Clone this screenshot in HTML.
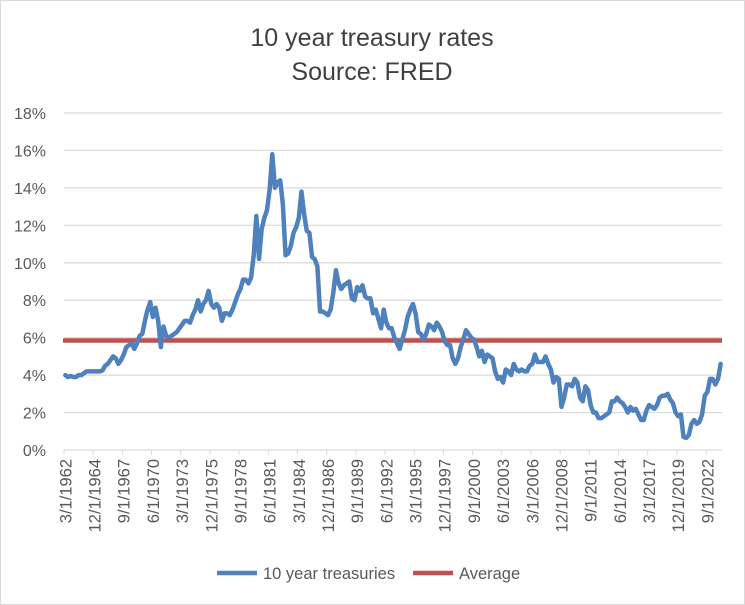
<!DOCTYPE html>
<html><head><meta charset="utf-8"><style>
html,body{margin:0;padding:0;background:#fff}
svg{display:block;font-family:"Liberation Sans",Arial,sans-serif}
</style></head><body>
<svg id="chart" width="745" height="605" viewBox="0 0 745 605">
<rect x="0.5" y="0.5" width="744" height="604" fill="#fff" stroke="#d9d9d9"/>
<text x="372" y="46" text-anchor="middle" font-size="25" fill="#404040">10 year treasury rates</text>
<text x="372" y="80" text-anchor="middle" font-size="25" fill="#404040">Source: FRED</text>
<g id="grid"></g><g id="yt"></g><g id="xt"></g><g id="series"></g>
<g>
<line x1="217" y1="573" x2="257" y2="573" stroke="#4f81bd" stroke-width="4.5"/>
<text x="263" y="579" font-size="16.5" fill="#595959">10 year treasuries</text>
<line x1="413" y1="573" x2="453" y2="573" stroke="#c0504d" stroke-width="4.5"/>
<text x="459" y="579" font-size="16.5" fill="#595959">Average</text>
</g>
</svg>
<script>
const yTicks=[0,2,4,6,8,10,12,14,16,18];
const startYear=1962;
const rates=[
4.0,3.9,3.95,3.9, 3.9,4.0,4.0,4.1, 4.2,4.2,4.2,4.2, 4.2,4.2,4.25,4.5,
4.6,4.8,5.0,4.9, 4.6,4.8,5.1,5.5, 5.6,5.7,5.4,5.7, 6.1,6.2,6.9,7.5,
7.9,7.1,7.6,6.9, 5.5,6.6,6.1,6.0, 6.1,6.2,6.3,6.5, 6.7,6.9,6.9,6.8,
7.2,7.5,8.0,7.4, 7.8,8.0,8.5,7.8, 7.6,7.8,7.6,6.9, 7.3,7.3,7.2,7.5,
7.9,8.3,8.6,9.1, 9.1,8.9,9.2,10.4, 12.5,10.2,11.8,12.4, 12.8,13.9,15.8,14.0,
14.3,14.4,13.1,10.4, 10.5,10.9,11.6,11.9, 12.4,13.8,12.6,11.7, 11.6,10.3,10.2,9.8,
7.4,7.4,7.3,7.2, 7.5,8.4,9.6,8.9, 8.6,8.8,8.9,9.0, 8.1,8.0,8.7,8.5,
8.8,8.2,8.1,8.1, 7.3,7.5,7.0,6.5, 7.5,6.8,6.5,6.5, 6.0,5.7,5.4,5.9,
6.4,7.1,7.5,7.8, 7.3,6.3,6.2,5.9, 6.2,6.7,6.6,6.4, 6.8,6.6,6.3,5.8,
5.6,5.6,4.9,4.6, 4.9,5.5,5.9,6.4, 6.2,6.0,5.9,5.5, 5.0,5.3,4.7,5.1,
5.0,4.9,4.2,3.8, 3.9,3.6,4.3,4.2, 4.0,4.6,4.3,4.2, 4.3,4.2,4.2,4.5,
4.6,5.1,4.7,4.7, 4.7,5.0,4.6,4.3, 3.6,3.9,3.8,2.3, 2.8,3.5,3.5,3.4,
3.8,3.6,2.8,2.6, 3.4,3.2,2.4,2.0, 2.0,1.7,1.7,1.8, 1.9,2.0,2.6,2.6,
2.8,2.6,2.5,2.3, 2.0,2.3,2.1,2.2, 1.9,1.6,1.6,2.1, 2.4,2.3,2.2,2.4,
2.8,2.9,2.9,3.0, 2.7,2.5,2.0,1.8, 1.9,0.7,0.65,0.8, 1.4,1.6,1.4,1.5,
1.9,2.9,3.1,3.8, 3.8,3.5,3.8,4.6
];
const avgValue=5.85;
const tickEvery=11;
const NS="http://www.w3.org/2000/svg";
const X0=64,X1=722,Y0=450,Y1=113;
const n=rates.length, step=(X1-X0)/n;
const xs=i=>X0+(i+0.5)*step;
const ys=v=>Y0-(v-yTicks[0])/(yTicks[yTicks.length-1]-yTicks[0])*(Y0-Y1);
function mk(tag,attrs,parent){const e=document.createElementNS(NS,tag);for(const k in attrs)e.setAttribute(k,attrs[k]);parent.appendChild(e);return e;}
const grid=document.getElementById('grid'),yt=document.getElementById('yt'),xt=document.getElementById('xt'),ser=document.getElementById('series');
yTicks.forEach(t=>{
  const l=mk('line',{x1:X0,x2:X1,y1:ys(t),y2:ys(t),stroke:'#d9d9d9','stroke-width':1.2},grid);
  
  
  const tx=mk('text',{x:46,y:ys(t)+6,'text-anchor':'end','font-size':16,fill:'#595959'},yt);
  tx.textContent=t+'%';
  
  
});
for(let i=0;i<=n;i+=tickEvery){
  const x=X0+i*step;
  const tm=mk('line',{x1:x,x2:x,y1:Y0,y2:Y0+5,stroke:'#d9d9d9','stroke-width':1},grid);
  
  
}
for(let i=0;i<n;i+=tickEvery){
  const yr=startYear+Math.floor(i/4), m=(i%4)*3+3;
  const x=xs(i);
  const tx=mk('text',{x:0,y:0,'text-anchor':'end','font-size':16.5,fill:'#595959',transform:`translate(${x+6},${Y0+9}) rotate(-90)`},xt);
  tx.textContent=m+'/1/'+yr;
  
  
}
const avg=mk('line',{x1:X0-1,x2:X1,y1:ys(avgValue),y2:ys(avgValue),stroke:'#c0504d','stroke-width':4.5},ser);


const d=rates.map((v,i)=>(i?'L':'M')+xs(i).toFixed(2)+','+ys(v).toFixed(2)).join(' ');
const p=mk('path',{d:d,fill:'none',stroke:'#4f81bd','stroke-width':4.5,'stroke-linejoin':'round','stroke-linecap':'round'},ser);


</script>
</body></html>
